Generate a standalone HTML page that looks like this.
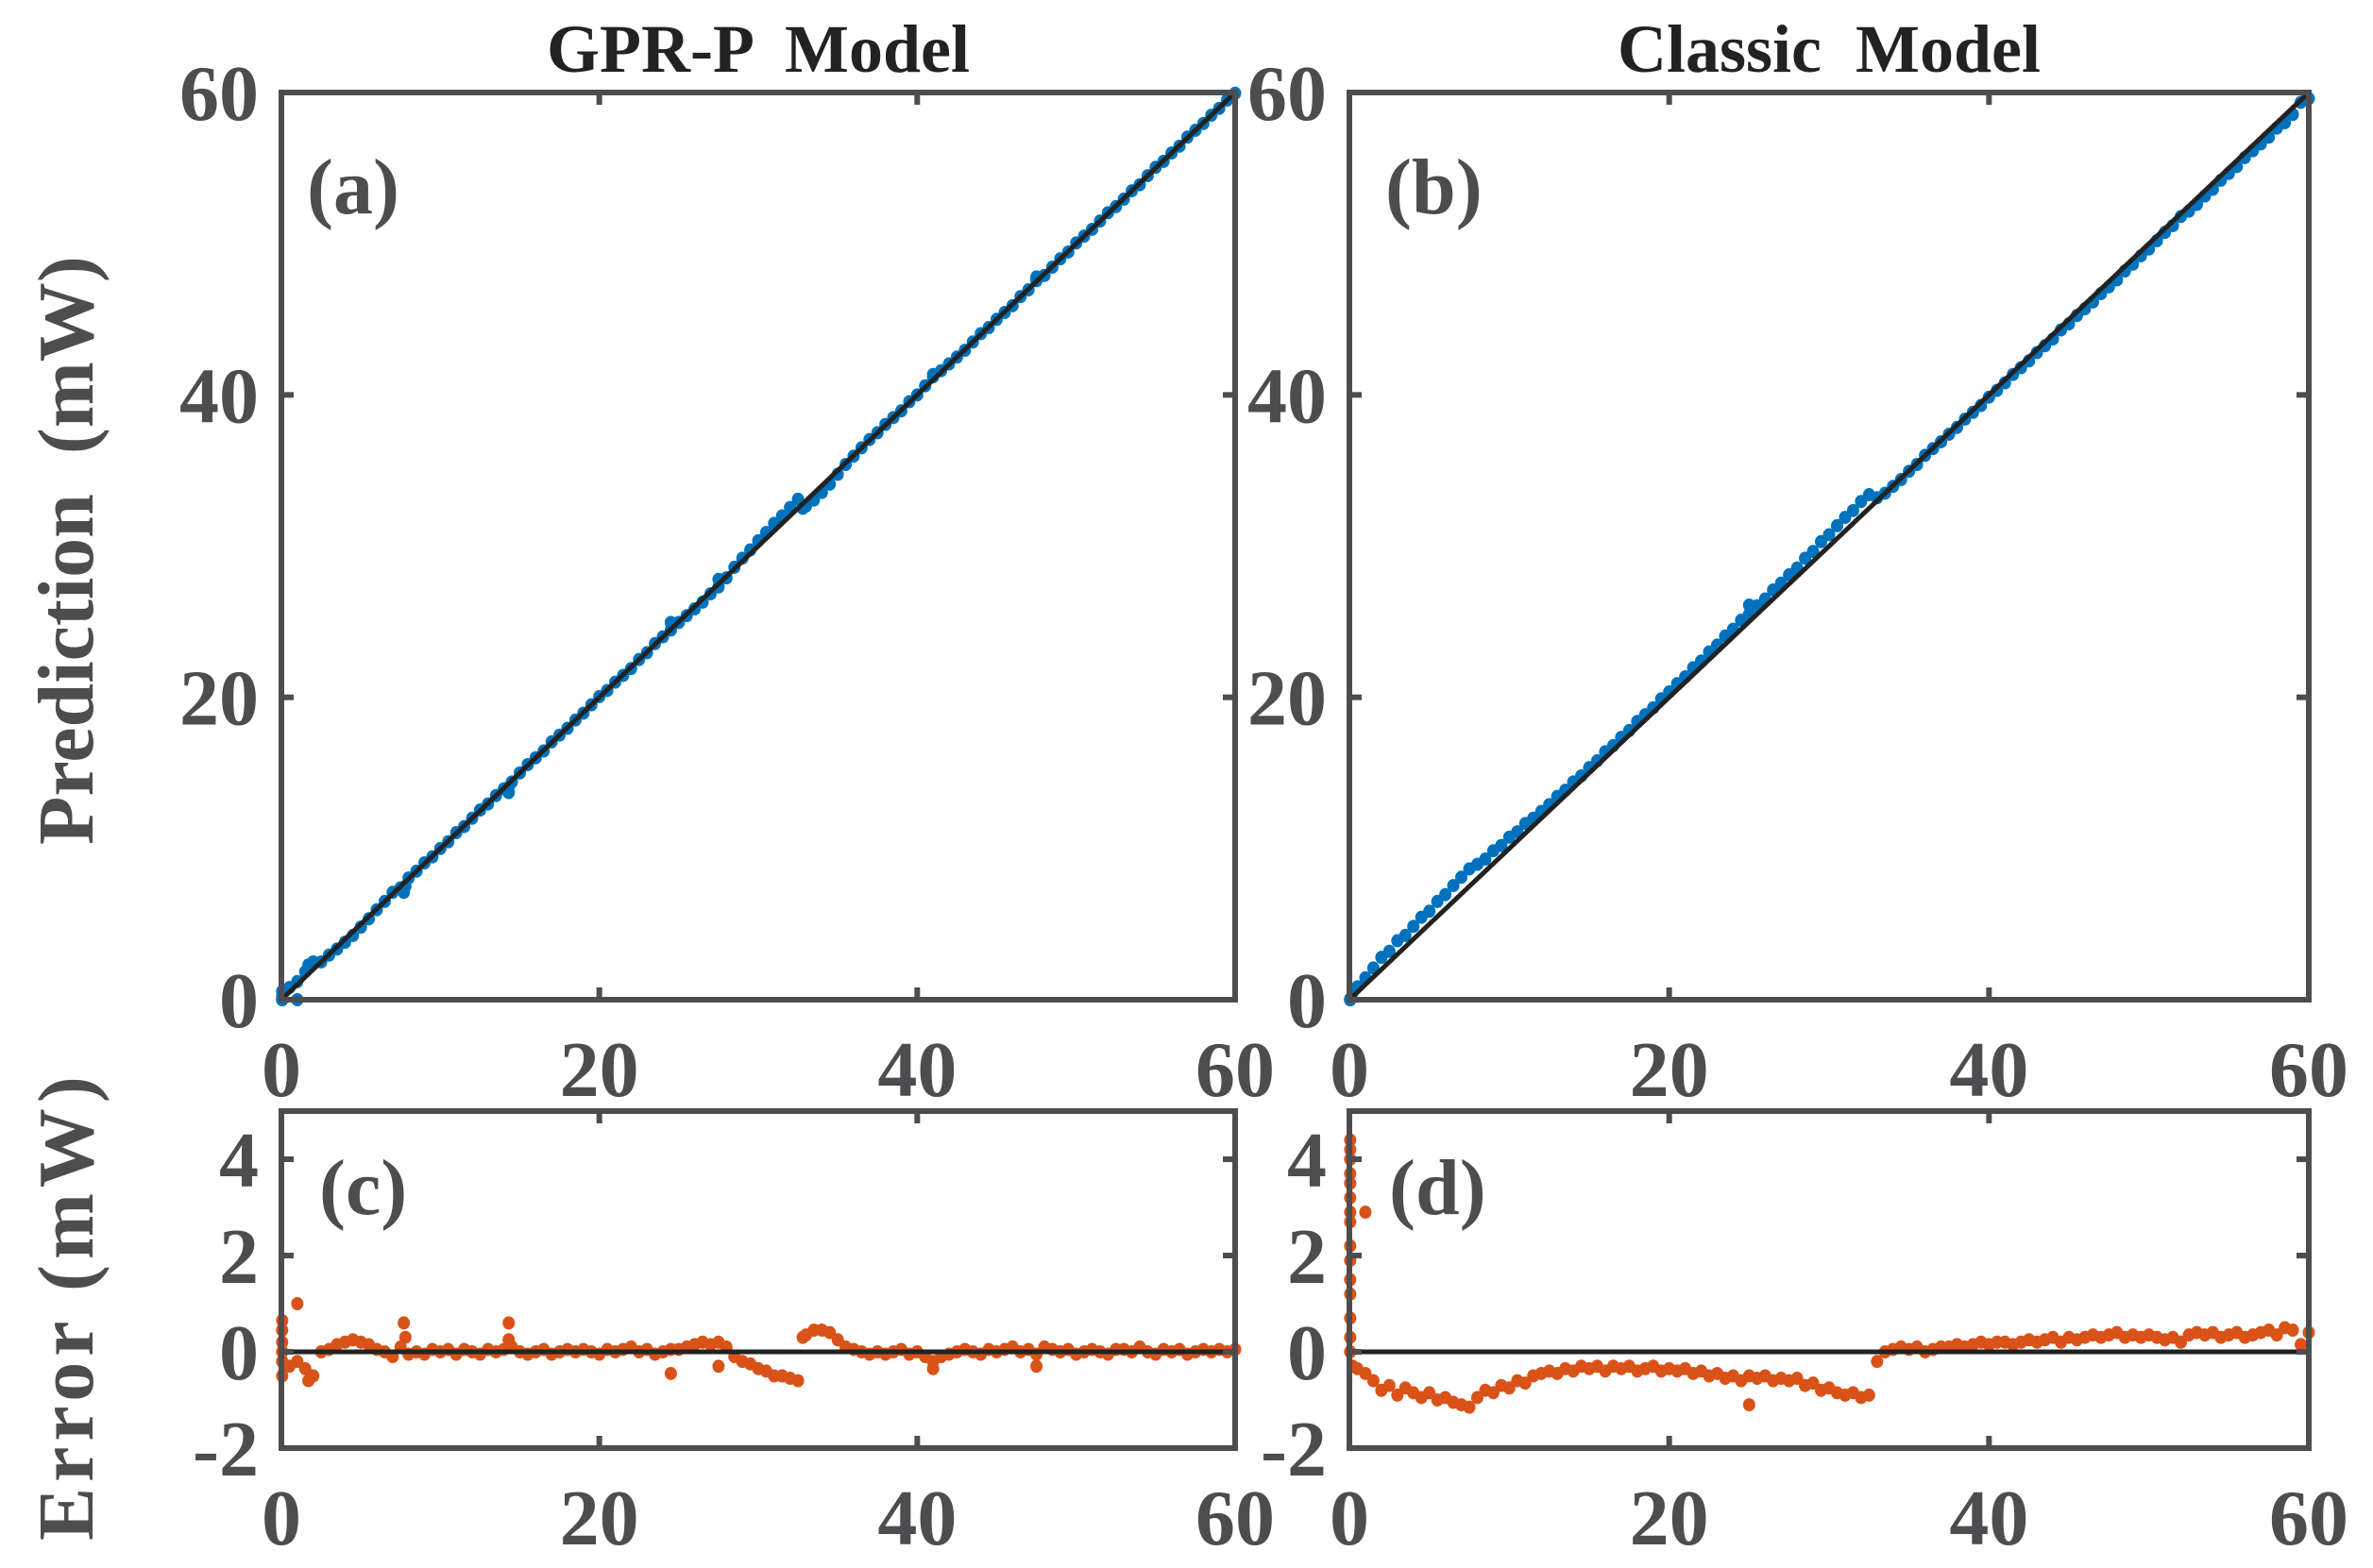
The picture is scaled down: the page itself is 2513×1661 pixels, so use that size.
<!DOCTYPE html>
<html><head><meta charset="utf-8"><style>
html,body{margin:0;padding:0;background:#fff;}
svg{display:block;}
text{font-family:"Liberation Serif","Times New Roman",Times,serif;}
</style></head><body>
<svg id="fig" width="2513" height="1661" viewBox="0 0 2513 1661" xmlns="http://www.w3.org/2000/svg" font-family="Liberation Serif, Times New Roman, serif">
<g id="layer"></g>
</svg>
<script>
const xVals = [0.5,1,1.5,2,2.5,3,3.5,4,4.5,5,5.5,6,6.5,7,7.5,8,8.5,9,9.5,10,10.5,11,11.5,12,12.5,13,13.5,14,14.5,15,15.5,16,16.5,17,17.5,18,18.5,19,19.5,20,20.5,21,21.5,22,22.5,23,23.5,24,24.5,25,25.5,26,26.5,27,27.5,28,28.5,29,29.5,30,30.5,31,31.5,32,32.5,33,33.5,34,34.5,35,35.5,36,36.5,37,37.5,38,38.5,39,39.5,40,40.5,41,41.5,42,42.5,43,43.5,44,44.5,45,45.5,46,46.5,47,47.5,48,48.5,49,49.5,50,50.5,51,51.5,52,52.5,53,53.5,54,54.5,55,55.5,56,56.5,57,57.5,58,58.5,59,59.5,60];
const errGPR = [-0.3,-0.2,-0.35,-0.5,0.0,0.05,0.15,0.2,0.25,0.2,0.15,0.05,0.0,-0.1,0.1,-0.05,0.0,-0.05,0.05,0.0,0.05,-0.05,0.05,0.0,-0.05,0.05,0.0,0.05,0.1,0.0,-0.05,0.0,0.05,-0.05,0.0,0.05,0.0,0.05,0.0,-0.05,0.05,0.0,0.05,0.1,0.0,0.05,-0.05,0.0,0.05,0.05,0.1,0.15,0.2,0.15,0.2,0.1,-0.1,-0.2,-0.25,-0.35,-0.4,-0.5,-0.5,-0.55,-0.6,0.35,0.45,0.45,0.4,0.25,0.1,0.05,0.0,-0.05,0.0,-0.05,0.0,0.05,-0.05,0.0,-0.1,-0.2,-0.1,-0.05,0.0,0.05,0.0,-0.05,0.05,0.0,0.05,0.1,0.0,0.05,-0.05,0.1,0.05,0.0,0.05,-0.05,0.0,0.05,0.0,-0.05,0.05,0.05,0.0,0.1,0.0,-0.05,0.05,0.0,0.05,-0.05,0.0,0.05,0.0,0.05,0.0,0.05];
const errClassic = [-0.35,-0.45,-0.6,-0.8,-0.7,-0.9,-0.75,-0.85,-0.95,-0.85,-1.0,-0.95,-1.05,-1.1,-1.15,-0.95,-0.8,-0.85,-0.7,-0.75,-0.6,-0.65,-0.5,-0.45,-0.4,-0.45,-0.35,-0.4,-0.3,-0.35,-0.3,-0.4,-0.3,-0.35,-0.3,-0.4,-0.35,-0.3,-0.4,-0.35,-0.4,-0.35,-0.45,-0.4,-0.5,-0.45,-0.55,-0.5,-0.6,-0.5,-0.55,-0.5,-0.6,-0.55,-0.6,-0.55,-0.7,-0.65,-0.8,-0.75,-0.85,-0.9,-0.85,-0.95,-0.9,-0.2,0.0,0.05,0.1,0.05,0.1,0.0,0.05,0.1,0.1,0.15,0.1,0.15,0.2,0.15,0.2,0.2,0.15,0.2,0.25,0.2,0.25,0.3,0.2,0.3,0.25,0.3,0.35,0.3,0.35,0.4,0.3,0.35,0.3,0.35,0.3,0.25,0.3,0.2,0.35,0.4,0.35,0.4,0.3,0.35,0.4,0.3,0.35,0.4,0.45,0.35,0.5,0.45,0.15,0.4];
const gprExtraX = [0.05,0.05,0.05,0.05,0.05,0.05,1.0,1.7,7.7,7.8,14.3,14.3,24.5,27.5,32.8,41,47.5];
const gprExtraErr = [0.65,0.45,0.2,0.0,-0.2,-0.5,1.0,-0.6,0.6,0.3,0.6,0.25,-0.45,-0.3,0.3,-0.35,-0.3];
const clsExtraX = [0.05,0.05,0.05,0.05,0.05,0.05,0.05,0.05,0.05,0.05,0.05,0.05,0.05,0.05,0.05,1.0,25.0,0.2];
const clsExtraErr = [4.4,4.2,4.0,3.7,3.5,3.2,2.9,2.7,2.2,1.9,1.5,1.2,0.7,0.3,0.0,2.9,-1.1,-0.3];
const mainTicks = [0,20,40,60];
const errTicks = [-2,0,2,4];
const xTickLabels = ['0','20','40','60'];
const errTickLabels = ['-2','0','2','4'];

const NS='http://www.w3.org/2000/svg';
const layer=document.getElementById('layer');
const AX='#4d4d50', BLUE='#0072bd', ORANGE='#d95319';
function mk(tag,attrs,parent){const e=document.createElementNS(NS,tag);for(const k in attrs)e.setAttribute(k,attrs[k]);(parent||layer).appendChild(e);return e;}
function txt(s,attrs,parent){const e=mk('text',attrs,parent);e.setAttribute('font-family','Liberation Serif, Times New Roman, serif');e.textContent=s;return e;}

const panels=[
 {id:'a',x0:298,x1:1308,yb:1059,yt:98,ymin:0,ymax:60,yt_:mainTicks,ylab:xTickLabels,err:errGPR,ex:gprExtraX,ee:gprExtraErr,kind:'pred',label:'(a)',lx:325,ly:226},
 {id:'b',x0:1429,x1:2445,yb:1059,yt:98,ymin:0,ymax:60,yt_:mainTicks,ylab:xTickLabels,err:errClassic,ex:clsExtraX,ee:clsExtraErr,kind:'pred',label:'(b)',lx:1467,ly:226},
 {id:'c',x0:298,x1:1308,yb:1534,yt:1177,ymin:-2,ymax:5,yt_:errTicks,ylab:errTickLabels,err:errGPR,ex:gprExtraX,ee:gprExtraErr,kind:'err',label:'(c)',lx:338,ly:1286},
 {id:'d',x0:1429,x1:2445,yb:1534,yt:1177,ymin:-2,ymax:5,yt_:errTicks,ylab:errTickLabels,err:errClassic,ex:clsExtraX,ee:clsExtraErr,kind:'err',label:'(d)',lx:1471,ly:1286}
];

panels.forEach(p=>{
  const sx=v=>p.x0+(v-0)/(60-0)*(p.x1-p.x0);
  const sy=v=>p.yb-(v-p.ymin)/(p.ymax-p.ymin)*(p.yb-p.yt);
  const g=mk('g',{});
  
  
  const mg=mk('g',{},g);
  
  
  const color=p.kind==='pred'?BLUE:ORANGE;
  const allX=xVals.concat(p.ex), allE=p.err.concat(p.ee);
  allX.forEach((xv,i)=>{
    let yv=p.kind==='pred'?xv-allE[i]:allE[i];
    if(p.kind==='pred' && i>=xVals.length && Math.abs(allE[i])>1.2) return;
    if(p.kind==='pred' && yv<0) yv=0;
    const c=mk('ellipse',{cx:sx(xv),cy:sy(yv),rx:6.5,ry:7,fill:color},mg);
    
    
  });
  let ref;
  if(p.kind==='pred') ref=mk('line',{x1:sx(0),y1:sy(0),x2:sx(60),y2:sy(60),stroke:'#222',"stroke-width":5},g);
  else ref=mk('line',{x1:sx(0),y1:sy(0),x2:sx(60),y2:sy(0),stroke:'#222',"stroke-width":5},g);
  
  
  const box=mk('rect',{x:p.x0,y:p.yt,width:p.x1-p.x0,height:p.yb-p.yt,fill:'none',stroke:AX,"stroke-width":6},g);
  
  
  mainTicks.forEach((t,i)=>{
    const X=sx(t);
    mk('line',{x1:X,y1:p.yb,x2:X,y2:p.yb-13,stroke:AX,"stroke-width":6},g);
    mk('line',{x1:X,y1:p.yt,x2:X,y2:p.yt+13,stroke:AX,"stroke-width":6},g);
    const tl=txt(xTickLabels[i],{x:X,y:p.yb+102,"text-anchor":"middle","font-size":84,"font-weight":"bold",fill:AX},g);
    
    
  });
  p.yt_.forEach((t,i)=>{
    const Y=sy(t);
    mk('line',{x1:p.x0,y1:Y,x2:p.x0+13,y2:Y,stroke:AX,"stroke-width":6},g);
    mk('line',{x1:p.x1,y1:Y,x2:p.x1-13,y2:Y,stroke:AX,"stroke-width":6},g);
    const tl=txt(p.ylab[i],{x:p.x0-24,y:Y+29,"text-anchor":"end","font-size":84,"font-weight":"bold",fill:AX},g);
    
    
  });
  const pl=txt(p.label,{x:p.lx,y:p.ly,"font-size":84,"font-weight":"bold",fill:AX},g);
  
  
});

const t1=txt('GPR-P  Model',{x:803,y:76,"text-anchor":"middle","font-size":72,"font-weight":"bold",fill:'#222',"xml:space":"preserve",style:"white-space:pre"});


const t2=txt('Classic  Model',{x:1937,y:76,"text-anchor":"middle","font-size":72,"font-weight":"bold",fill:'#222',"xml:space":"preserve",style:"white-space:pre"});


const yl1=txt('Prediction  (mW)',{x:0,y:0,transform:'translate(98,583) rotate(-90)',"text-anchor":"middle","font-size":84,"font-weight":"bold",fill:AX,style:"white-space:pre"});


const yl2=txt('Error (mW)',{x:0,y:0,transform:'translate(98,1383) rotate(-90)',"text-anchor":"middle","font-size":84,"font-weight":"bold","letter-spacing":6,fill:AX});


</script>
</body></html>
